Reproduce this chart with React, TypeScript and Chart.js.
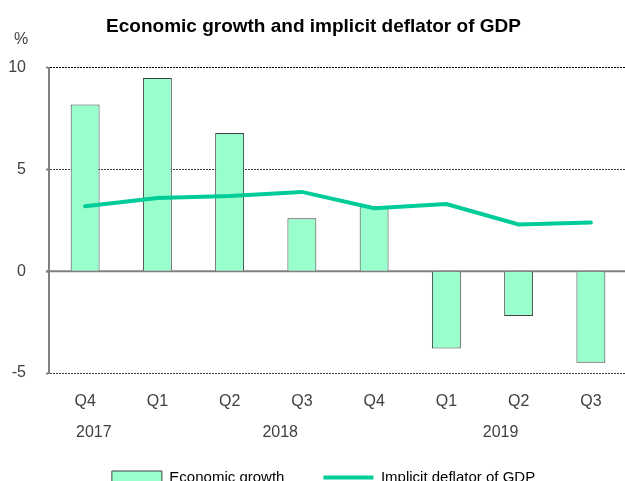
import React, { useEffect, useRef } from "react";
import { Chart, registerables } from "chart.js";

Chart.register(...registerables);

const categories = ["Q4", "Q1", "Q2", "Q3", "Q4", "Q1", "Q2", "Q3"];
const years = ["2017", "2018", "2019"];
const growth = [8.2, 9.5, 6.8, 2.6, 3.2, -3.8, -2.2, -4.5];
const deflator = [3.2, 3.6, 3.7, 3.9, 3.1, 3.3, 2.3, 2.4];
const yTicks = [-5, 0, 5, 10];

const FONT = "'Liberation Sans', Arial, sans-serif";
const TEXT = "#404040";

const extraText = {
  id: "extraText",
  afterLayout(chart: any) {
    const l = chart.legend;
    if (l) {
      l.left += 10;
      l.right += 10;
    }
  },
  beforeDatasetsDraw(chart: any) {
    const { ctx, chartArea, scales } = chart;
    const y0 = scales.y.getPixelForValue(0);
    ctx.save();
    ctx.strokeStyle = "#808080";
    ctx.lineWidth = 2;
    ctx.beginPath();
    ctx.moveTo(chartArea.left - 3, y0);
    ctx.lineTo(chartArea.right, y0);
    ctx.stroke();
    ctx.restore();
  },
  afterDraw(chart: any) {
    const { ctx, chartArea, scales } = chart;
    ctx.save();
    ctx.fillStyle = TEXT;
    ctx.font = `16px ${FONT}`;
    ctx.textAlign = "center";
    ctx.textBaseline = "middle";
    ctx.fillText("%", chartArea.left - 28, chartArea.top - 28);
    const anchors = [0.12, 2.7, 5.75];
    const yy = scales.x.top + 60;
    years.forEach((yr, i) => {
      ctx.fillText(yr, scales.x.getPixelForValue(anchors[i]), yy);
    });
    ctx.restore();
  },
};

export default function App() {
  const ref = useRef<HTMLCanvasElement>(null);
  useEffect(() => {
    document.body.style.margin = "0";
    const chart = new Chart(ref.current!, {
      type: "bar",
      data: {
        labels: categories,
        datasets: [
          {
            type: "bar",
            label: "Economic growth",
            data: growth,
            backgroundColor: "#99ffcc",
            borderColor: "#404040",
            borderWidth: 1,
            barPercentage: 0.4,
            categoryPercentage: 1,
            pointStyle: "rect",
            order: 2,
          } as any,
          {
            type: "line",
            label: "Implicit deflator of GDP",
            data: deflator,
            borderColor: "#00cc99",
            backgroundColor: "#00cc99",
            borderWidth: 4,
            borderCapStyle: "round",
            pointRadius: 0,
            pointStyle: "line",
            tension: 0,
            order: 1,
          } as any,
        ],
      },
      options: {
        animation: false,
        responsive: true,
        maintainAspectRatio: false,
        layout: { padding: { left: 0, right: 0, top: 0, bottom: 0 } },
        plugins: {
          title: {
            display: true,
            text: "Economic growth and implicit deflator of GDP",
            color: "#000",
            font: { family: FONT, size: 19, weight: "bold" },
            padding: { top: 15, bottom: 30 },
          },
          legend: {
            position: "bottom",
            labels: {
              color: "#000",
              font: { family: FONT, size: 15 },
              usePointStyle: true,
              pointStyleWidth: 50,
              boxWidth: 50,
              boxHeight: 13,
              padding: 39,
              sort: (a: any, b: any) => a.datasetIndex - b.datasetIndex,
            },
          },
          tooltip: { enabled: false },
        },
        scales: {
          x: {
            grid: { display: false },
            border: { display: false },
            ticks: { color: TEXT, font: { family: FONT, size: 16 }, padding: 11 },
            afterFit: (s: any) => {
              s.height = 58;
            },
          },
          y: {
            min: -5,
            max: 10,
            afterBuildTicks: (s: any) => {
              s.ticks = yTicks.map((v) => ({ value: v }));
            },
            grid: {
              color: (ctx: any) =>
                ctx.tick && ctx.tick.value === 0
                  ? "rgba(0,0,0,0)"
                  : ctx.tick && ctx.tick.value === 10
                  ? "#000000"
                  : "#404040",
              lineWidth: 1,
              tickLength: 3,
              tickColor: "#808080",
              tickWidth: 2,
            },
            border: { display: true, color: "#808080", width: 2, dash: [2, 1] },
            ticks: { color: TEXT, font: { family: FONT, size: 16 }, padding: 20 },
            afterFit: (s: any) => {
              s.width = 49;
            },
          },
        },
      },
      plugins: [extraText],
    });
    return () => chart.destroy();
  }, []);
  return (
    <div style={{ width: 625, height: 481, overflow: "hidden", position: "relative" }}>
      <div style={{ width: 627, height: 495, position: "absolute", left: 0, top: 0 }}>
        <canvas ref={ref} />
      </div>
    </div>
  );
}
